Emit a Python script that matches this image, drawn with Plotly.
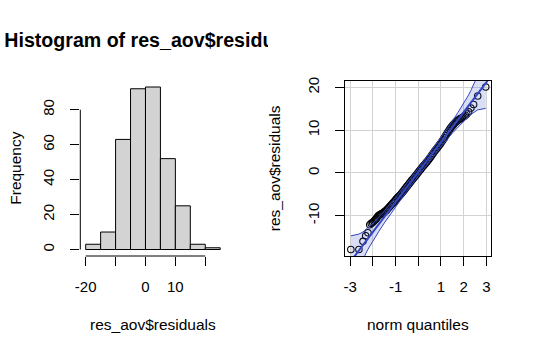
import plotly.graph_objects as go

W, H = 533, 355
FONT = "Liberation Sans, Arial, sans-serif"

# ---------------- Histogram data ----------------
bin_edges = [-20, -15, -10, -5, 0, 5, 10, 15, 20, 25]
bin_counts = [3, 10, 63, 92, 93, 52, 25, 3, 1]
hist_xticks = [-20, -10, 0, 10, 20]
hist_xticklabels = ["-20", "", "0", "10", ""]
hist_yticks = [0, 20, 40, 60, 80]
hist_yticklabels = ["0", "20", "40", "60", "80"]

# ---------------- QQ plot data ----------------
qq_theoretical = [
    -2.975, -2.62, -2.44, -2.32, -2.22, -2.14, -2.075, -2.015, -1.96, -1.91,
    -1.87, -1.83, -1.79, -1.75, -1.70, -1.65, -1.60, -1.55, -1.50, -1.45,
    -1.40, -1.35, -1.30, -1.25, -1.20, -1.15, -1.10, -1.05, -1.00, -0.95,
    -0.90, -0.85, -0.80, -0.75, -0.70, -0.65, -0.60, -0.55, -0.50, -0.45,
    -0.40, -0.35, -0.30, -0.25, -0.20, -0.15, -0.10, -0.05, 0.00, 0.05,
    0.10, 0.15, 0.20, 0.25, 0.30, 0.35, 0.40, 0.45, 0.50, 0.55,
    0.60, 0.65, 0.70, 0.75, 0.80, 0.85, 0.90, 0.95, 1.00, 1.05,
    1.10, 1.15, 1.20, 1.25, 1.30, 1.35, 1.40, 1.45, 1.50, 1.55,
    1.60, 1.65, 1.70, 1.75, 1.80, 1.85, 1.914, 1.96, 2.015, 2.075,
    2.14, 2.22, 2.32, 2.44, 2.62, 2.975,
]
qq_residuals = [
    -17.9, -17.9, -16.0, -14.7, -14.0, -12.1, -11.8, -11.6, -11.3, -11.0,
    -10.8, -10.5, -10.2, -9.95, -9.8, -9.6, -9.5, -9.3, -9.1, -8.9,
    -8.7, -8.4, -8.1, -7.8, -7.5, -7.2, -6.9, -6.6, -6.3, -6.0,
    -5.7, -5.45, -5.15, -4.85, -4.5, -4.2, -3.85, -3.5, -3.15, -2.8,
    -2.5, -2.15, -1.8, -1.5, -1.2, -0.85, -0.55, -0.2, 0.15, 0.5,
    0.8, 1.15, 1.5, 1.8, 2.1, 2.45, 2.75, 3.1, 3.45, 3.8,
    4.2, 4.55, 4.95, 5.3, 5.6, 5.95, 6.3, 6.65, 7.0, 7.4,
    7.8, 8.2, 8.7, 9.1, 9.5, 9.9, 10.3, 10.7, 11.0, 11.3,
    11.6, 11.9, 12.1, 12.3, 12.5, 12.7, 12.8, 13.0, 13.2, 13.5,
    13.8, 14.3, 15.2, 16.0, 18.0, 20.1,
]
qq_xticks = [-3, -2, -1, 0, 1, 2, 3]
qq_xticklabels = ["-3", "", "-1", "", "1", "2", "3"]
qq_yticks = [-10, 0, 10, 20]
qq_yticklabels = ["-10", "0", "10", "20"]

# reference line (two end points)
line_x = [-3.3, 3.3]
line_y = [-22.9, 23.3]

# confidence envelope
env_z = [-2.975, -2.62, -2.44, -2.32, -2.22, -2.14, -2.0, -1.75, -1.5, -1.0, -0.5, 0.0,
         0.5, 1.0, 1.5, 1.75, 2.0, 2.14, 2.22, 2.32, 2.44, 2.62, 2.975]
env_upper = [-14.7, -14.3, -13.8, -13.3, -12.8, -12.5, -11.75, -10.35, -8.9, -5.7, -2.35, 1.15,
             4.65, 8.3, 12.1, 14.15, 16.25, 17.5, 18.25, 19.3, 20.7, 22.6, 26.9]
env_lower = [-26.5, -22.2, -20.3, -18.9, -17.85, -17.1, -15.85, -13.75, -11.7, -7.9, -4.25, -0.75,
             2.75, 6.1, 9.3, 10.75, 12.15, 12.85, 13.25, 13.7, 14.15, 14.75, 15.1]

# ---------------- layout helpers ----------------
def px_x(p):
    return p / W

def px_y(p):
    return (H - p) / H

PLOT_TOP, PLOT_BOT = 80.5, 256.0
H_LEFT, H_RIGHT = 80.3, 225.6
Q_LEFT, Q_RIGHT = 345.45, 491.15

LINE_BLUE = "#3346c0"
ENV_FILL = "rgba(51,70,192,0.18)"

fig = go.Figure()

# histogram bars
centers = [(a + b) / 2 for a, b in zip(bin_edges[:-1], bin_edges[1:])]
widths = [b - a for a, b in zip(bin_edges[:-1], bin_edges[1:])]
fig.add_trace(go.Bar(
    x=centers, y=bin_counts, width=widths,
    marker=dict(color="#d3d3d3", line=dict(color="black", width=1)),
    xaxis="x", yaxis="y", hoverinfo="skip", showlegend=False,
))

# QQ points
fig.add_trace(go.Scatter(
    x=qq_theoretical, y=qq_residuals, mode="markers",
    marker=dict(symbol="circle-open", size=6.5, color="black", line=dict(width=1.1, color="black")),
    xaxis="x2", yaxis="y2", hoverinfo="skip", showlegend=False,
))
# reference line
fig.add_trace(go.Scatter(
    x=line_x, y=line_y, mode="lines",
    line=dict(color=LINE_BLUE, width=2),
    xaxis="x2", yaxis="y2", hoverinfo="skip", showlegend=False,
))
# envelope fill
fig.add_trace(go.Scatter(
    x=env_z + env_z[::-1], y=env_upper + env_lower[::-1], mode="lines",
    fill="toself", fillcolor=ENV_FILL, line=dict(width=0),
    xaxis="x2", yaxis="y2", hoverinfo="skip", showlegend=False,
))
for edge in (env_upper, env_lower):
    fig.add_trace(go.Scatter(
        x=env_z, y=edge, mode="lines",
        line=dict(color=LINE_BLUE, width=1),
        xaxis="x2", yaxis="y2", hoverinfo="skip", showlegend=False,
    ))

# clipped title (R clips it to the left figure region)
fig.add_trace(go.Scatter(
    x=[(H_LEFT + H_RIGHT) / 2], y=[42.5], mode="text",
    text=["<b>Histogram of res_aov$residuals</b>"],
    textfont=dict(family=FONT, size=19.6, color="black"),
    textposition="middle center", cliponaxis=True,
    xaxis="x3", yaxis="y3", hoverinfo="skip", showlegend=False,
))

tickfont = dict(family=FONT, size=15, color="black")
ydom = [px_y(PLOT_BOT), px_y(PLOT_TOP)]

span_h = bin_edges[-1] - bin_edges[0]
h_xr = [bin_edges[0] - 0.04 * span_h, bin_edges[-1] + 0.04 * span_h]
h_yr = [-0.04 * max(bin_counts), 1.04 * max(bin_counts)]

qx_max = max(abs(v) for v in qq_theoretical)
q_xr = [-qx_max * 1.08, qx_max * 1.08]
q_span = max(qq_residuals) - min(qq_residuals)
q_yr = [min(qq_residuals) - 0.04 * q_span, max(qq_residuals) + 0.04 * q_span]

common = dict(ticks="outside", ticklen=9, tickwidth=1, tickcolor="black",
              tickfont=tickfont, zeroline=False, fixedrange=True, automargin=False)

fig.update_layout(
    width=W, height=H, margin=dict(l=0, r=0, t=0, b=0),
    paper_bgcolor="white", plot_bgcolor="rgba(0,0,0,0)",
    font=dict(family=FONT, size=16, color="black"),
    bargap=0, showlegend=False,
    xaxis=dict(domain=[px_x(H_LEFT), px_x(H_RIGHT)], range=h_xr, anchor="y",
               tickmode="array", tickvals=hist_xticks, ticktext=hist_xticklabels,
               showgrid=False, showline=False, ticklabelstandoff=8, **common),
    yaxis=dict(domain=ydom, range=h_yr, anchor="x",
               tickmode="array", tickvals=hist_yticks, ticktext=hist_yticklabels,
               tickangle=-90, showgrid=False, showline=False, ticklabelstandoff=10, **common),
    xaxis2=dict(domain=[px_x(Q_LEFT), px_x(Q_RIGHT)], range=q_xr, anchor="y2",
                tickmode="array", tickvals=qq_xticks, ticktext=qq_xticklabels,
                showgrid=True, gridcolor="#d3d3d3", gridwidth=1,
                showline=True, linecolor="black", linewidth=1, mirror=True,
                ticklabelstandoff=8, **common),
    yaxis2=dict(domain=ydom, range=q_yr, anchor="x2",
                tickmode="array", tickvals=qq_yticks, ticktext=qq_yticklabels,
                tickangle=-90, showgrid=True, gridcolor="#d3d3d3", gridwidth=1,
                showline=True, linecolor="black", linewidth=1, mirror=True,
                ticklabelstandoff=10, **common),
    xaxis3=dict(domain=[0, px_x(268)], range=[0, 268], anchor="y3", visible=False, fixedrange=True),
    yaxis3=dict(domain=[px_y(62), px_y(22)], range=[62, 22], anchor="x3", visible=False, fixedrange=True),
)

# R-style axis lines that span only from first to last tick
fig.add_shape(type="line", xref="x", yref="paper",
              x0=hist_xticks[0], x1=hist_xticks[-1], y0=px_y(PLOT_BOT), y1=px_y(PLOT_BOT),
              line=dict(color="black", width=1))
fig.add_shape(type="line", xref="paper", yref="y",
              x0=px_x(H_LEFT), x1=px_x(H_LEFT), y0=hist_yticks[0], y1=hist_yticks[-1],
              line=dict(color="black", width=1))

# axis titles
ann = dict(showarrow=False, xref="paper", yref="paper", font=dict(family=FONT, size=15.5, color="black"))
fig.add_annotation(text="res_aov$residuals", x=px_x((H_LEFT + H_RIGHT) / 2), y=px_y(324),
                   xanchor="center", yanchor="middle", **ann)
fig.add_annotation(text="Frequency", x=px_x(15.5), y=px_y((PLOT_TOP + PLOT_BOT) / 2),
                   textangle=-90, xanchor="center", yanchor="middle", **ann)
fig.add_annotation(text="norm quantiles", x=px_x((Q_LEFT + Q_RIGHT) / 2), y=px_y(324),
                   xanchor="center", yanchor="middle", **ann)
fig.add_annotation(text="res_aov$residuals", x=px_x(274), y=px_y((PLOT_TOP + PLOT_BOT) / 2),
                   textangle=-90, xanchor="center", yanchor="middle", **ann)

fig.write_html("out.html", config={"displayModeBar": False, "staticPlot": True},
               post_script="document.body.style.margin='0';")
